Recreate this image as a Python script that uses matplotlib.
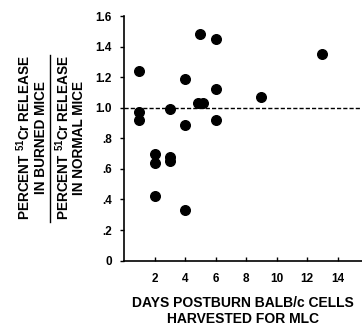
import matplotlib
matplotlib.use("Agg")
import matplotlib.pyplot as plt
from matplotlib.lines import Line2D

plt.rcParams['font.family'] = ['Liberation Sans', 'DejaVu Sans']
plt.rcParams['font.weight'] = 'bold'
plt.rcParams['mathtext.fontset'] = 'custom'
plt.rcParams['mathtext.rm'] = 'Liberation Sans:bold'
plt.rcParams['mathtext.it'] = 'Liberation Sans:bold'
plt.rcParams['mathtext.bf'] = 'Liberation Sans:bold'

# day postburn vs ratio of 51Cr release (burned / normal)
days = [1, 1, 1, 2, 2, 2, 3, 3, 3, 4, 4, 4, 4.85, 5, 5.2, 6, 6, 6, 9, 13]
ratio = [1.24, 0.97, 0.92, 0.70, 0.64, 0.42, 0.99, 0.68, 0.65, 1.19, 0.89, 0.33,
         1.03, 1.48, 1.03, 1.45, 1.12, 0.92, 1.07, 1.35]

xticks = [2, 4, 6, 8, 10, 12, 14]
yticks = [0, 0.2, 0.4, 0.6, 0.8, 1.0, 1.2, 1.4, 1.6]
ylabels = ['0', '.2', '.4', '.6', '.8', '1.0', '1.2', '1.4', '1.6']

fig = plt.figure(figsize=(3.62, 3.27), dpi=100)
ax = fig.add_axes([0.343, 0.203, 0.657, 0.748])

ax.axhline(1.0, color='black', linestyle=(0, (3, 1.5)), linewidth=1.0)
ax.scatter(days, ratio, s=48, color='black', zorder=3, clip_on=False)

ax.set_xlim(0, 15.6)
ax.set_ylim(0, 1.6)
ax.set_xticks(xticks)
ax.set_xticklabels([str(t) for t in xticks], fontsize=8.5, fontweight='bold')
ax.set_yticks(yticks)
ax.set_yticklabels(ylabels, fontsize=8.5, fontweight='bold')
ax.tick_params(axis='x', direction='in', length=3, width=1, pad=9)
ax.tick_params(axis='y', direction='out', length=3, width=1, pad=6)

for s in ['top', 'right']:
    ax.spines[s].set_visible(False)
for s in ['left', 'bottom']:
    ax.spines[s].set_linewidth(1.2)

ax.set_xlabel('DAYS POSTBURN BALB/c CELLS\nHARVESTED FOR MLC', fontsize=10,
              fontweight='bold', labelpad=8, linespacing=1.2)

# y label drawn as a fraction
fig.text(0.085, 0.579, 'PERCENT $^{51}$Cr RELEASE\nIN BURNED MICE', rotation=90,
         ha='center', va='center', fontsize=9.8, fontweight='bold',
         multialignment='center', linespacing=1.1)
fig.text(0.192, 0.579, 'PERCENT $^{51}$Cr RELEASE\nIN NORMAL MICE', rotation=90,
         ha='center', va='center', fontsize=9.8, fontweight='bold',
         multialignment='center', linespacing=1.0)
fig.add_artist(Line2D([0.138, 0.138], [0.321, 0.832], transform=fig.transFigure,
                      color='black', linewidth=1))

fig.savefig('out.png', dpi=100)
